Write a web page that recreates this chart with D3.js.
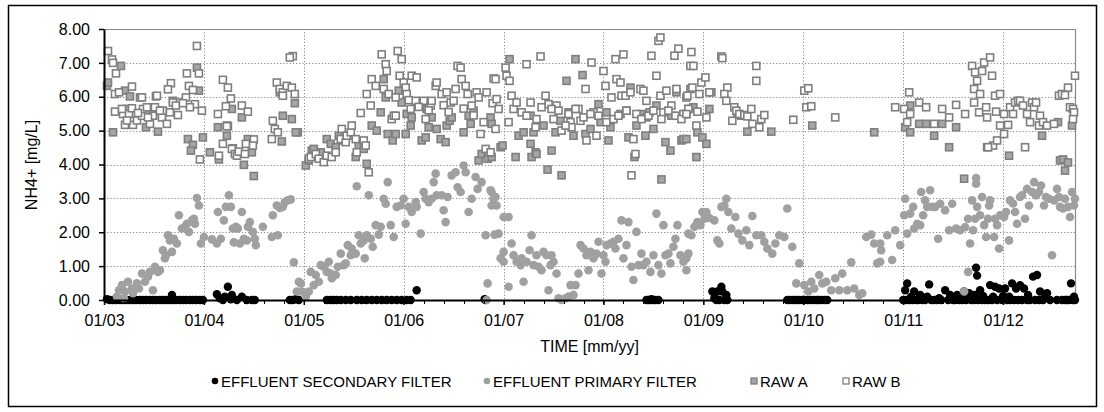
<!DOCTYPE html>
<html>
<head>
<meta charset="utf-8">
<script src="https://cdn.jsdelivr.net/npm/d3@7"></script>
<style>
body{margin:0;background:#fff}
svg{display:block}
text{font-family:"Liberation Sans",Arial,sans-serif;fill:#000}
</style>
</head>
<body>
<svg width="1104" height="412"></svg>
<script>
// tick values / labels
var yearTicks=[2003,2004,2005,2006,2007,2008,2009,2010,2011,2012];
var yearLabels=["01/03","01/04","01/05","01/06","01/07","01/08","01/09","01/10","01/11","01/12"];
var valueTicks=[0,1,2,3,4,5,6,7,8];
var seriesNames=["EFFLUENT SECONDARY FILTER","EFFLUENT PRIMARY FILTER","RAW A","RAW B"];

// [decimal year, NH4+ mg/L]
var secondary=[[2003.03,0.02],[2003.06,0],[2003.09,0],[2003.12,0],[2003.16,0],[2003.19,0],[2003.22,0],[2003.26,0],[2003.29,0],[2003.32,0],[2003.36,0],[2003.39,0],[2003.42,0],[2003.46,0],[2003.49,0],[2003.52,0],[2003.56,0],[2003.59,0],[2003.62,0],[2003.66,0],[2003.68,0.15],[2003.69,0],[2003.72,0],[2003.76,0],[2003.79,0],[2003.82,0],[2003.86,0],[2003.89,0],[2003.92,0],[2003.96,0],[2003.99,0],
[2004.13,0.17],[2004.16,0.05],[2004.19,0],[2004.21,0.1],[2004.24,0.39],[2004.27,0.02],[2004.28,0.15],[2004.33,0],[2004.38,0.1],[2004.43,0],[2004.48,0],[2004.51,0],[2004.86,0],[2004.89,0],[2004.92,0.02],[2004.95,0],
[2005.23,0],[2005.27,0],[2005.30,0],[2005.33,0],[2005.37,0],[2005.42,0],[2005.47,0],[2005.53,0],[2005.58,0],[2005.63,0],[2005.68,0],[2005.73,0],[2005.78,0],[2005.83,0],[2005.88,0],[2005.93,0],[2005.98,0],[2006.03,0],[2006.07,0],[2006.13,0.29],[2006.81,0.02],[2006.82,0],
[2008.43,0],[2008.45,0],[2008.47,0],[2008.48,0.02],[2008.50,0],[2008.52,0],[2008.55,0],
[2009.09,0.25],[2009.11,0.05],[2009.13,0],[2009.14,0.25],[2009.16,0],[2009.18,0.39],[2009.19,0.25],[2009.21,0],[2009.23,0.15],[2009.24,0],
[2009.84,0],[2009.87,0],[2009.90,0],[2009.93,0],[2009.96,0],[2009.99,0],[2010.01,0],[2010.04,0],[2010.07,0],[2010.10,0],[2010.13,0],[2010.15,0],[2010.18,0],[2010.21,0],[2010.24,0],
[2011.00,0],[2011.02,0.29],[2011.03,0],[2011.04,0.49],[2011.06,0],[2011.08,0.1],[2011.09,0],[2011.11,0.25],[2011.13,0],[2011.15,0],[2011.17,0.15],[2011.19,0],[2011.22,0],[2011.24,0.1],[2011.26,0.46],[2011.28,0],[2011.31,0],[2011.34,0],[2011.36,0.05],[2011.38,0],[2011.42,0.29],[2011.45,0],[2011.47,0.15],[2011.50,0],[2011.52,0],[2011.54,0.15],[2011.56,0],[2011.58,0.08],[2011.59,0],[2011.61,0.25],[2011.63,0],[2011.66,0.2],[2011.68,0],[2011.71,0],[2011.72,0.15],[2011.73,0.95],[2011.74,0.72],[2011.75,0],[2011.77,0.29],[2011.79,0],[2011.80,0.12],[2011.82,0],[2011.85,0],[2011.87,0.44],[2011.89,0],[2011.90,0.1],[2011.92,0.39],[2011.94,0],[2011.96,0.34],[2011.99,0],[2012.00,0.12],[2012.02,0.34],[2012.04,0],[2012.06,0.1],[2012.07,0],[2012.09,0.49],[2012.11,0],[2012.13,0.34],[2012.15,0],[2012.17,0.44],[2012.19,0],[2012.21,0.34],[2012.24,0],[2012.25,0.15],[2012.27,0],[2012.30,0.69],[2012.32,0],[2012.34,0.74],[2012.36,0],[2012.37,0.25],[2012.40,0],[2012.42,0.08],[2012.44,0.2],[2012.47,0],[2012.54,0],[2012.59,0],[2012.62,0],[2012.64,0],[2012.66,0],[2012.68,0.49],[2012.70,0],[2012.71,0.1],[2012.72,0]];

var primary=[[2003.13,0.1],[2003.15,0.29],[2003.18,0.44],[2003.2,0.05],[2003.21,0.25],[2003.24,0.54],[2003.28,0.34],[2003.29,0.2],[2003.33,0.49],[2003.35,0.34],[2003.38,0.78],[2003.41,0.54],[2003.44,0.69],[2003.46,0.83],[2003.49,0.29],[2003.51,0.98],[2003.54,0.83],[2003.56,0.88],[2003.59,1.47],[2003.61,1.23],[2003.62,1.32],[2003.64,1.91],[2003.66,1.76],[2003.68,1.42],[2003.7,1.81],[2003.73,1.67],[2003.75,2.5],[2003.78,2.11],[2003.81,2.16],[2003.83,2.25],[2003.85,2.01],[2003.88,2.35],[2003.9,2.4],[2003.91,2.25],[2003.93,3.01],[2003.95,2.79],[2003.97,1.67],[2004.0,1.86],[2004.08,1.79],[2004.13,1.67],[2004.14,2.6],[2004.17,1.81],[2004.2,2.35],[2004.22,2.75],[2004.25,3.09],[2004.27,2.75],[2004.29,2.11],[2004.3,1.7],[2004.32,2.16],[2004.34,2.11],[2004.36,1.67],[2004.38,2.6],[2004.4,1.81],[2004.43,1.76],[2004.44,2.16],[2004.46,2.3],[2004.49,2.01],[2004.51,1.81],[2004.52,1.62],[2004.59,2.16],[2004.68,1.86],[2004.69,2.5],[2004.73,2.79],[2004.74,1.91],[2004.76,2.72],[2004.79,2.75],[2004.81,2.89],[2004.84,2.94],[2004.87,2.97],[2004.9,1.11],[2004.93,0.25],[2004.95,0.54],
[2004.97,0.49],[2004.98,0.25],[2005.02,0.1],[2005.05,0.25],[2005.07,0.83],[2005.1,0.44],[2005.12,0.74],[2005.15,0.54],[2005.17,1.03],[2005.2,0.98],[2005.23,0.83],[2005.25,1.13],[2005.27,0.78],[2005.28,0.64],[2005.32,0.74],[2005.34,0.98],[2005.37,1.37],[2005.4,1.03],[2005.42,1.08],[2005.44,1.62],[2005.47,1.32],[2005.48,1.52],[2005.52,1.37],[2005.53,3.36],[2005.55,1.91],[2005.57,1.67],[2005.6,1.76],[2005.61,1.23],[2005.63,1.91],[2005.65,3.09],[2005.67,1.81],[2005.69,1.57],[2005.72,2.21],[2005.75,1.93],[2005.77,2.16],[2005.8,2.99],[2005.82,2.84],[2005.84,3.48],[2005.87,2.21],[2005.9,1.86],[2005.93,2.75],[2005.97,2.79],[2006.0,2.99],[2006.02,2.25],[2006.05,2.75],[2006.08,2.6],[2006.12,2.89],[2006.13,2.75],[2006.17,1.96],[2006.2,3.19],[2006.22,2.99],[2006.25,2.89],[2006.28,2.99],[2006.3,3.48],[2006.32,3.73],[2006.33,3.09],[2006.38,3.09],[2006.4,2.65],[2006.42,2.3],[2006.44,3.04],[2006.48,3.68],[2006.52,3.77],[2006.54,3.33],[2006.57,3.19],[2006.6,3.97],[2006.62,3.77],[2006.65,2.6],[2006.68,2.99],[2006.72,3.63],[2006.74,3.28],[2006.78,3.48],[2006.82,1.91],[2006.83,0.0],[2006.84,0.49],[2006.87,3.24],[2006.88,2.79],[2006.91,1.93],
[2006.88,3.19],[2006.9,2.99],[2006.92,3.04],[2006.93,2.79],[2006.95,1.96],[2006.97,1.23],[2007.0,2.45],[2007.0,1.42],[2007.0,1.13],[2007.05,2.45],[2007.05,0.39],[2007.08,1.67],[2007.1,1.32],[2007.13,1.13],[2007.17,1.03],[2007.18,1.23],[2007.2,0.54],[2007.23,1.13],[2007.26,1.47],[2007.28,1.91],[2007.3,1.03],[2007.33,1.32],[2007.35,0.98],[2007.38,0.88],[2007.4,1.42],[2007.43,1.32],[2007.45,0.29],[2007.47,1.03],[2007.48,1.32],[2007.5,1.13],[2007.53,0.78],[2007.55,0.05],[2007.58,0.0],[2007.62,0.05],[2007.65,0.1],[2007.67,0.44],[2007.7,0.15],[2007.72,0.44],[2007.75,0.78],[2007.77,1.62],[2007.8,1.52],[2007.83,1.32],[2007.85,0.88],[2007.87,1.42],[2007.9,1.23],[2007.93,1.37],[2007.95,1.72],[2007.98,0.78],[2008.0,1.32],[2008.02,1.13],[2008.03,1.62],[2008.07,1.67],[2008.1,1.72],[2008.12,1.52],[2008.15,1.81],[2008.18,2.35],[2008.2,1.23],[2008.23,1.62],[2008.25,2.3],[2008.28,0.98],[2008.3,0.59],[2008.33,2.01],[2008.35,1.03],[2008.38,1.37],[2008.4,1.03],[2008.43,1.13],[2008.47,0.83],[2008.5,1.32],[2008.53,2.55],[2008.55,1.03],[2008.58,0.78],[2008.6,2.21],[2008.62,1.32],[2008.65,1.37],[2008.67,1.08],[2008.7,1.57],[2008.72,1.81],[2008.74,2.21],[2008.77,1.32],[2008.8,1.13],[2008.83,1.23],[2008.85,1.96],
[2008.83,0.88],[2008.85,1.37],[2008.88,1.91],[2008.91,2.16],[2008.94,2.3],[2008.97,2.21],[2008.99,2.6],[2009.01,2.4],[2009.03,2.6],[2009.06,2.42],[2009.11,2.35],[2009.14,1.76],[2009.16,1.67],[2009.18,2.75],[2009.21,2.79],[2009.23,2.99],[2009.25,2.6],[2009.28,2.11],[2009.32,2.45],[2009.35,1.96],[2009.39,1.76],[2009.43,2.06],[2009.46,1.62],[2009.49,2.48],[2009.53,1.91],[2009.58,1.91],[2009.61,1.72],[2009.64,1.52],[2009.69,1.37],[2009.72,1.67],[2009.76,1.91],[2009.81,1.86],[2009.84,2.7],[2009.89,1.57],[2009.93,0.49],[2009.96,1.08],[2010.01,0.44],[2010.05,0.25],[2010.08,0.54],[2010.11,0.34],[2010.16,0.74],[2010.19,0.49],[2010.23,0.54],[2010.28,0.29],[2010.32,0.64],[2010.36,0.29],[2010.39,0.78],[2010.44,0.29],[2010.48,1.11],[2010.51,0.34],[2010.56,0.15],[2010.59,0.2],[2010.63,1.86],[2010.68,1.93],[2010.71,1.67],[2010.74,1.08],[2010.78,1.47],
[2010.77,1.67],[2010.77,1.13],[2010.84,1.91],[2010.89,1.18],[2010.92,2.06],[2010.97,1.62],[2011.01,2.5],[2011.02,2.99],[2011.04,1.96],[2011.07,2.55],[2011.1,2.75],[2011.11,2.11],[2011.14,2.25],[2011.17,2.21],[2011.18,3.19],[2011.2,2.5],[2011.22,2.94],[2011.24,2.75],[2011.27,3.24],[2011.29,2.75],[2011.32,2.75],[2011.35,1.81],[2011.37,2.84],[2011.42,2.65],[2011.46,2.06],[2011.49,2.84],[2011.53,2.11],[2011.57,2.06],[2011.61,0.25],[2011.62,2.15],[2011.65,2.4],[2011.65,0.83],[2011.67,1.67],[2011.69,2.94],[2011.7,2.06],[2011.72,2.4],[2011.73,3.6],[2011.73,3.43],[2011.74,2.75],[2011.77,2.5],[2011.79,3.04],[2011.81,2.21],[2011.83,1.86],[2011.85,2.4],[2011.86,2.79],[2011.87,2.94],[2011.91,1.86],[2011.92,2.4],[2011.94,2.21],[2011.96,1.52],[2011.97,2.5],[2012.01,2.45],[2012.03,2.6],[2012.06,1.76],[2012.07,2.94],[2012.1,2.85],[2012.12,2.6],[2012.14,2.25],[2012.17,3.04],[2012.19,3.09],[2012.22,2.4],[2012.24,3.28],[2012.26,2.79],[2012.29,3.19],[2012.31,3.48],[2012.33,3.09],[2012.36,3.19],[2012.38,3.38],[2012.41,2.79],[2012.43,3.04],[2012.46,2.99],[2012.49,1.32],[2012.51,2.94],[2012.54,3.28],[2012.56,3.04],[2012.57,2.75],[2012.6,2.7],[2012.62,2.99],[2012.65,2.75],[2012.67,2.45],[2012.69,3.19],[2012.71,2.79],[2012.72,2.99]];

var rawA=[[2003.03,6.32],[2003.04,6.42],[2003.17,6.91],[2003.09,4.95],[2003.21,6.18],[2003.26,6.01],[2003.23,5.64],[2003.36,5.98],[2003.42,5.1],[2003.54,4.97],[2003.52,6.01],[2003.48,5.54],[2003.58,5.44],[2003.69,5.88],[2003.93,6.86],[2003.95,6.18],[2003.84,4.75],[2003.89,4.58],[2003.87,4.41],[2003.99,4.8],[2004.06,4.36],[2004.14,5.1],[2004.23,5.15],[2004.24,5.13],[2004.23,4.85],[2004.15,4.15],[2004.28,5.64],[2004.29,4.48],[2004.38,5.39],[2004.4,3.99],[2004.48,4.36],[2004.44,4.75],[2004.5,3.66],[2004.79,5.44],[2004.88,5.34],[2004.91,5.81],[2004.78,4.68],[2004.94,4.95],[2004.76,6.13],
[2004.92,4.95],[2005.02,3.97],[2005.05,4.12],[2005.08,4.41],[2005.1,4.46],[2005.13,4.26],[2005.17,4.36],[2005.23,4.75],[2005.27,4.61],[2005.32,4.51],[2005.35,4.85],[2005.4,4.71],[2005.47,4.85],[2005.52,4.22],[2005.55,4.56],[2005.6,4.46],[2005.63,4.02],[2005.68,5.15],[2005.73,5.0],[2005.77,5.54],[2005.8,6.52],[2005.82,5.98],[2005.84,4.9],[2005.89,4.71],[2005.92,4.9],[2005.95,6.18],[2005.98,5.83],[2006.02,4.9],[2006.03,5.49],[2006.07,5.15],[2006.08,5.39],[2006.18,4.71],[2006.22,4.8],[2006.25,5.1],[2006.23,5.64],[2006.28,5.39],[2006.33,5.05],[2006.37,4.75],[2006.42,4.66],[2006.43,5.15],[2006.46,5.29],[2006.48,5.39],[2006.6,4.95],[2006.65,5.44],[2006.67,5.2],[2006.7,5.59],[2006.75,4.12],[2006.78,4.31],[2006.84,4.17],[2006.87,5.39],[2006.88,5.2],
[2007.06,7.11],[2007.72,7.11],[2007.63,6.47],[2007.79,6.64],[2006.88,4.22],[2006.97,4.51],[2006.99,4.56],[2007.12,4.22],[2007.15,4.85],[2007.2,4.95],[2007.27,4.61],[2007.28,4.22],[2007.32,4.36],[2007.33,4.31],[2007.44,3.85],[2007.48,4.41],[2007.58,3.68],[2007.27,5.44],[2007.3,4.95],[2007.4,5.15],[2007.52,4.95],[2007.57,5.29],[2007.65,5.54],[2007.7,4.85],[2007.82,4.9],[2007.87,5.05],[2007.95,5.78],[2007.97,5.25],[2008.03,5.54],[2008.05,4.71],[2008.07,5.1],[2008.17,5.49],[2008.23,5.59],[2008.25,4.8],[2008.27,6.27],[2008.31,4.22],[2008.33,5.15],[2008.38,5.49],[2008.42,4.85],[2008.43,5.39],[2008.46,5.54],[2008.5,5.05],[2008.53,5.74],[2008.58,3.56],[2008.62,4.66],[2008.67,4.41],[2008.68,5.44],[2008.78,4.71],[2008.8,4.75],[2008.83,5.49],[2008.87,6.23],[2008.73,6.13],
[2008.83,4.75],[2008.85,5.64],[2008.9,5.69],[2008.94,4.95],[2008.99,4.8],[2009.03,4.61],[2008.93,4.22],[2009.06,5.64],[2009.08,6.13],[2009.34,5.49],[2009.38,5.44],[2009.44,4.97],[2009.68,4.97],[2010.09,5.15],[2010.71,4.95],
[2011.02,5.1],[2011.07,4.95],[2011.07,5.74],[2011.16,5.2],[2011.23,5.2],[2011.31,4.85],[2011.39,5.2],[2011.46,4.51],[2011.53,5.1],[2011.61,3.58],[2011.84,4.51],[2012.06,4.26],[2012.39,4.85],[2012.55,5.25],[2012.57,4.12],[2012.6,4.15],[2012.65,4.06],[2012.62,3.82],[2012.69,5.15]];

var rawB=[[2003.04,7.35],[2003.08,7.1],[2003.09,7.0],[2003.12,6.69],[2003.28,6.3],[2003.11,6.08],[2003.15,6.13],[2003.11,5.56],[2003.19,5.49],[2003.21,5.17],[2003.29,5.17],[2003.33,5.3],[2003.38,5.98],[2003.38,5.44],[2003.39,5.64],[2003.46,5.2],[2003.49,5.44],[2003.53,6.03],[2003.58,5.39],[2003.59,5.59],[2003.63,5.2],[2003.66,5.54],[2003.67,6.4],[2003.64,6.22],[2003.74,5.46],[2003.76,5.83],[2003.82,5.98],[2003.83,6.69],[2003.85,6.32],[2003.89,6.2],[2003.91,5.78],[2003.93,7.5],[2003.95,6.69],[2003.98,5.59],[2003.86,5.69],[2003.96,4.15],[2003.25,5.49],[2003.18,5.64],[2003.23,5.3],[2003.28,5.66],[2003.34,5.52],[2003.43,5.69],[2003.44,5.39],[2003.51,5.69],[2003.56,5.59],[2003.69,5.83],[2003.72,5.74],[2003.79,5.81],
[2004.19,6.5],[2004.24,6.27],[2004.27,5.95],[2004.22,5.72],[2004.14,5.49],[2004.23,5.13],[2004.19,4.61],[2004.15,4.26],[2004.28,4.46],[2004.31,4.31],[2004.33,4.26],[2004.38,5.74],[2004.44,5.56],[2004.5,4.74],[2004.49,4.56],[2004.42,4.61],[2004.35,4.38],[2004.41,4.31],[2004.89,7.2],[2004.86,7.16],[2004.73,6.42],[2004.76,6.23],[2004.79,6.13],[2004.83,6.32],[2004.88,6.27],[2004.79,6.03],[2004.91,6.08],[2004.69,5.29],[2004.71,5.05],[2004.74,4.95],[2004.68,4.75],
[2005.05,4.17],[2005.07,4.22],[2005.12,4.31],[2005.15,4.17],[2005.2,4.07],[2005.23,4.26],[2005.28,4.22],[2005.32,4.36],[2005.37,4.75],[2005.38,5.05],[2005.42,4.66],[2005.43,4.85],[2005.47,4.95],[2005.48,5.15],[2005.52,4.75],[2005.53,4.36],[2005.57,5.52],[2005.6,4.71],[2005.62,4.56],[2005.65,3.77],[2005.67,5.74],[2005.63,6.08],[2005.68,6.52],[2005.72,6.32],[2005.78,7.25],[2005.82,6.96],[2005.83,6.76],[2005.8,6.23],[2005.85,6.08],[2005.88,5.34],[2005.9,5.44],[2005.92,5.98],[2005.94,7.35],[2005.98,7.11],[2005.96,6.62],[2006.0,6.42],[2006.02,6.27],[2006.03,6.08],[2006.07,5.64],[2006.08,6.62],[2006.13,6.57],[2006.12,5.88],[2006.2,5.88],[2006.22,5.34],[2006.27,5.74],[2006.28,5.88],[2006.32,6.32],[2006.33,6.42],[2006.38,6.08],[2006.43,6.13],[2006.47,5.83],[2006.5,5.88],[2006.52,6.23],[2006.54,6.91],[2006.57,6.86],[2006.58,6.52],[2006.62,6.32],[2006.64,6.08],[2006.68,5.74],[2006.73,6.13],[2006.75,5.98],[2006.83,6.13],[2006.85,4.36],[2006.82,4.46],[2006.89,5.81],[2006.9,6.54],[2006.77,4.9],[2006.8,5.25],[2005.92,5.44],[2006.05,5.9],[2006.15,5.7],[2006.25,5.6],[2006.4,5.75],[2006.45,5.55],[2006.6,5.65],[2006.7,5.45],
[2006.92,6.52],[2007.02,6.86],[2007.03,6.62],[2007.06,6.47],[2007.08,6.03],[2006.93,5.93],[2006.95,5.64],[2007.05,5.25],[2006.92,5.05],[2006.87,4.36],[2007.23,6.96],[2007.37,7.19],[2007.32,5.1],[2007.42,6.03],[2007.45,5.78],[2007.5,5.34],[2007.53,5.74],[2007.58,5.0],[2007.67,5.25],[2007.68,5.1],[2007.75,5.64],[2007.77,5.29],[2007.82,6.23],[2007.83,4.71],[2007.88,7.01],[2007.9,5.54],[2007.93,4.85],[2008.0,6.76],[2008.02,6.32],[2008.08,5.98],[2008.12,7.11],[2008.13,6.52],[2008.17,6.42],[2008.18,6.03],[2008.2,7.25],[2008.22,6.03],[2008.27,6.13],[2008.3,4.75],[2008.32,4.31],[2008.28,3.68],[2008.37,6.23],[2008.4,6.18],[2008.43,5.88],[2008.48,7.21],[2008.53,6.62],[2008.55,7.65],[2008.57,7.75],[2008.57,6.03],[2008.6,5.54],[2008.63,6.18],[2008.68,5.74],[2008.71,7.21],[2008.73,6.23],[2008.75,7.42],[2008.8,5.49],[2008.83,5.98],[2008.87,6.91],
[2007.1,5.64],[2007.13,5.83],[2007.18,5.54],[2007.23,5.44],[2007.27,5.83],[2007.33,5.34],[2007.38,5.69],[2007.48,5.64],[2007.55,5.59],[2007.62,5.15],[2007.65,5.49],[2007.72,5.64],[2007.8,5.39],[2007.87,5.49],[2007.95,5.44],[2008.03,5.25],[2008.1,5.34],[2008.15,5.44],[2008.23,5.59],[2008.33,5.49],[2008.38,5.34],[2008.45,5.44],[2008.5,5.59],[2008.58,5.34],[2008.65,5.59],[2008.72,5.44],[2008.78,5.34],[2008.85,5.64],
[2008.88,7.32],[2008.9,6.91],[2008.98,6.42],[2009.02,6.57],[2008.89,6.27],[2008.84,6.03],[2008.96,6.08],[2009.06,6.13],[2008.83,5.49],[2008.94,5.56],[2009.03,5.39],[2008.93,5.15],[2009.18,7.19],[2009.19,7.14],[2009.24,6.27],[2009.21,6.08],[2009.23,5.88],[2009.31,5.69],[2009.33,5.59],[2009.29,5.29],[2009.36,5.49],[2009.41,5.46],[2009.44,5.42],[2009.48,5.64],[2009.49,5.2],[2009.53,6.91],[2009.53,6.47],[2009.56,5.1],[2009.58,5.34],[2009.61,5.46],[2009.9,5.32],[2010.01,6.18],[2010.05,6.25],[2010.03,5.69],[2010.08,5.72],[2010.32,5.39],
[2010.92,5.69],[2011.01,5.64],[2011.06,6.13],[2011.07,5.49],[2011.04,5.25],[2011.16,5.83],[2011.23,5.69],[2011.31,5.2],[2011.39,5.64],[2011.46,5.39],[2011.53,5.76],[2011.62,5.49],[2011.69,6.91],[2011.71,6.23],[2011.71,5.83],[2011.72,6.72],[2011.74,6.47],[2011.76,5.54],[2011.77,6.08],[2011.79,6.76],[2011.81,7.01],[2011.83,5.69],[2011.84,5.39],[2011.87,7.16],[2011.89,6.62],[2011.92,6.03],[2011.93,5.56],[2011.97,6.08],[2011.97,5.15],[2011.9,4.56],[2011.94,4.71],[2011.85,4.51],[2012.01,4.9],[2012.01,5.49],[2012.05,5.17],[2012.07,5.69],[2012.1,5.49],[2012.12,5.83],[2012.15,5.88],[2012.17,5.88],[2012.2,5.74],[2012.22,4.51],[2012.24,5.49],[2012.27,5.25],[2012.29,5.83],[2012.31,5.69],[2012.33,5.83],[2012.36,5.15],[2012.37,5.44],[2012.4,5.25],[2012.44,5.15],[2012.51,5.2],[2012.56,6.03],[2012.59,6.08],[2012.62,6.05],[2012.65,6.27],[2012.67,5.69],[2012.7,5.64],[2012.71,5.54],[2012.72,6.62],[2012.7,5.34]];

var svg=d3.select("svg");
var plot={left:104,right:1075,top:29,bottom:300};

var x=d3.scaleLinear().domain([2003,2012.72]).range([plot.left,plot.right]);
var y=d3.scaleLinear().domain([0,8]).range([plot.bottom,plot.top]);

// outer frame
svg.append("rect").attr("x",8.5).attr("y",5.5).attr("width",1088).attr("height",401)
   .attr("fill","#fff").attr("stroke","#000").attr("stroke-width",1.5);

// gridlines
var grid=svg.append("g").attr("stroke","#8a8a8a").attr("stroke-width",1).attr("stroke-dasharray","1.2,2");
grid.selectAll("line.h").data(valueTicks.filter(function(v){return v>0&&v<8;}))
    .enter().append("line")
    .attr("x1",plot.left).attr("x2",plot.right)
    .attr("y1",function(d){return Math.round(y(d))+0.5;})
    .attr("y2",function(d){return Math.round(y(d))+0.5;});
grid.selectAll("line.v").data(yearTicks.filter(function(t){return t>2003;}))
    .enter().append("line")
    .attr("y1",plot.top).attr("y2",plot.bottom)
    .attr("x1",function(d){return Math.round(x(d))+0.5;})
    .attr("x2",function(d){return Math.round(x(d))+0.5;});

// plot border (top/right gray)
svg.append("path")
   .attr("d","M"+plot.left+","+(plot.top+0.5)+"H"+(plot.right+0.5)+"V"+plot.bottom)
   .attr("fill","none").attr("stroke","#8a8a8a").attr("stroke-width",1.2);

// series
var marks=svg.append("g");
marks.selectAll("circle.sec").data(secondary).enter().append("circle")
     .attr("cx",function(d){return x(d[0]);}).attr("cy",function(d){return y(d[1]);})
     .attr("r",4.2).attr("fill","#000");
marks.selectAll("circle.pri").data(primary).enter().append("circle")
     .attr("cx",function(d){return x(d[0]);}).attr("cy",function(d){return y(d[1]);})
     .attr("r",4.3).attr("fill","#a0a0a0");
marks.selectAll("rect.a").data(rawA).enter().append("rect")
     .attr("x",function(d){return x(d[0])-3.5;}).attr("y",function(d){return y(d[1])-3.5;})
     .attr("width",7).attr("height",7)
     .attr("fill","#a6a6a6").attr("stroke","#7f7f7f").attr("stroke-width",1.6);
marks.selectAll("rect.b").data(rawB).enter().append("rect")
     .attr("x",function(d){return x(d[0])-3.5;}).attr("y",function(d){return y(d[1])-3.5;})
     .attr("width",7).attr("height",7)
     .attr("fill","#fff").attr("stroke","#7f7f7f").attr("stroke-width",1.6);

// y axis
var yAxis=d3.axisLeft(y).tickValues(valueTicks).tickFormat(d3.format(".2f")).tickSize(5).tickSizeOuter(0);
var gy=svg.append("g").attr("transform","translate("+plot.left+",0)").call(yAxis);
gy.select(".domain").attr("stroke","#000").attr("stroke-width",2);
gy.selectAll(".tick line").attr("stroke","#000").attr("stroke-width",1.5);
gy.selectAll(".tick text").attr("x",-14).attr("font-size",16).attr("font-family","Liberation Sans, Arial, sans-serif").attr("fill","#000");

// x axis: minor ticks
var minor=[];
for(var t=2003.2;t<2012.72;t+=0.2){minor.push(+t.toFixed(1));}
svg.append("g").selectAll("line").data(minor).enter().append("line")
   .attr("x1",function(d){return Math.round(x(d))+0.5;}).attr("x2",function(d){return Math.round(x(d))+0.5;})
   .attr("y1",plot.bottom).attr("y2",plot.bottom+4)
   .attr("stroke","#000").attr("stroke-width",1);
var xAxis=d3.axisBottom(x).tickValues(yearTicks)
   .tickFormat(function(d,i){return yearLabels[i];}).tickSize(5).tickSizeOuter(0);
var gx=svg.append("g").attr("transform","translate(0,"+plot.bottom+")").call(xAxis);
gx.select(".domain").attr("stroke","#000").attr("stroke-width",2);
gx.selectAll(".tick line").attr("stroke","#000").attr("stroke-width",1.5);
gx.selectAll(".tick text").attr("y",15).attr("font-size",16).attr("font-family","Liberation Sans, Arial, sans-serif").attr("fill","#000");

// axis titles
svg.append("text").attr("x",(plot.left+plot.right)/2).attr("y",352)
   .attr("text-anchor","middle").attr("font-size",16).text("TIME [mm/yy]");
svg.append("text").attr("transform","translate(37,165) rotate(-90)")
   .attr("text-anchor","middle").attr("font-size",16).text("NH4+ [mg/L]");

// legend
var legX=[215,487,754,846];
var leg=svg.append("g");
seriesNames.forEach(function(name,i){
  var g=leg.append("g").attr("transform","translate("+legX[i]+",381)");
  if(i<2){
    g.append("circle").attr("r",3.3).attr("fill",i==0?"#000":"#a0a0a0");
  } else {
    g.append("rect").attr("x",-3).attr("y",-3).attr("width",6).attr("height",6)
     .attr("fill",i==2?"#a6a6a6":"#fff").attr("stroke","#7f7f7f").attr("stroke-width",1.3);
  }
  g.append("text").attr("x",6).attr("y",5.5).attr("font-size",15).text(name);
});
</script>
</body>
</html>
